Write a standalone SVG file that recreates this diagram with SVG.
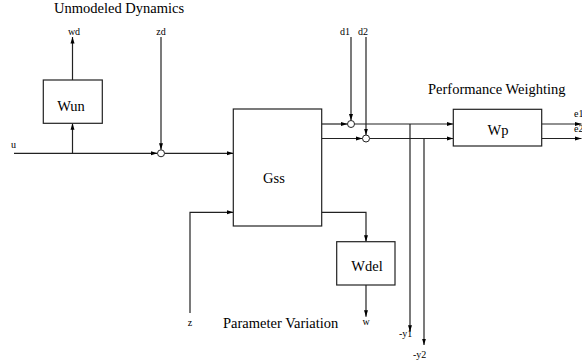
<svg xmlns="http://www.w3.org/2000/svg" width="582" height="364" viewBox="0 0 582 364">
<defs>
<marker id="ah" markerUnits="userSpaceOnUse" markerWidth="7" markerHeight="5" refX="6.5" refY="2.5" orient="auto">
<path d="M0,0.5 L6.5,2.5 L0,4.5 Z" fill="#000"/>
</marker>
<style>
.b{fill:#fff;stroke:#222;stroke-width:1.2}
.c{fill:none;stroke:#222;stroke-width:1.2}
.s{fill:#fff;stroke:#222;stroke-width:1}
.big{font-family:'Liberation Serif','Times New Roman',Times,'DejaVu Serif',serif;font-size:14.5px;fill:#000}
.sm{font-family:'Liberation Serif','Times New Roman',Times,'DejaVu Serif',serif;font-size:10px;fill:#000}
</style>
</defs>
<rect width="582" height="364" fill="#fff"/>
<g id="connectors">
<line class="c" x1="14" y1="153.3" x2="157.5" y2="153.3" marker-end="url(#ah)"/>
<line class="c" x1="72.5" y1="153.3" x2="72.5" y2="123.3" marker-end="url(#ah)"/>
<line class="c" x1="72.5" y1="80" x2="72.5" y2="37" marker-end="url(#ah)"/>
<line class="c" x1="161" y1="37" x2="161" y2="149.8" marker-end="url(#ah)"/>
<line class="c" x1="164.5" y1="153.3" x2="233.3" y2="153.3" marker-end="url(#ah)"/>
<line class="c" x1="321.7" y1="124" x2="347.5" y2="124" marker-end="url(#ah)"/>
<line class="c" x1="351" y1="37" x2="351" y2="120.5" marker-end="url(#ah)"/>
<line class="c" x1="354.5" y1="124" x2="453.3" y2="124" marker-end="url(#ah)"/>
<line class="c" x1="321.7" y1="138.5" x2="362.5" y2="138.5" marker-end="url(#ah)"/>
<line class="c" x1="366" y1="37" x2="366" y2="135" marker-end="url(#ah)"/>
<line class="c" x1="369.5" y1="138.5" x2="453.3" y2="138.5" marker-end="url(#ah)"/>
<line class="c" x1="410" y1="124" x2="410" y2="331.7" marker-end="url(#ah)"/>
<line class="c" x1="424" y1="138.5" x2="424" y2="345" marker-end="url(#ah)"/>
<line class="c" x1="541.7" y1="124" x2="581.5" y2="124" marker-end="url(#ah)"/>
<line class="c" x1="541.7" y1="138.5" x2="581.5" y2="138.5" marker-end="url(#ah)"/>
<polyline class="c" points="190,313 190,212.3 233.3,212.3" marker-end="url(#ah)"/>
<polyline class="c" points="321.7,212.3 366,212.3 366,241.7" marker-end="url(#ah)"/>
<line class="c" x1="366" y1="285" x2="366" y2="316.7" marker-end="url(#ah)"/>
</g>
<g id="sum1"><circle class="s" cx="161" cy="153.3" r="3.5"/></g>
<g id="sum2"><circle class="s" cx="351" cy="124" r="3.5"/></g>
<g id="sum3"><circle class="s" cx="366" cy="138.5" r="3.5"/></g>
<g id="Wun">
<rect class="b" x="43.3" y="80" width="59" height="43.3"/>
<text class="big" x="71" y="111" text-anchor="middle">Wun</text>
</g>
<g id="Gss">
<rect class="b" x="233.3" y="109" width="88.4" height="117"/>
<text class="big" x="274" y="183" text-anchor="middle">Gss</text>
</g>
<g id="Wp">
<rect class="b" x="453.3" y="109.3" width="88.4" height="36.7"/>
<text class="big" x="498" y="135" text-anchor="middle">Wp</text>
</g>
<g id="Wdel">
<rect class="b" x="336.7" y="241.7" width="58.3" height="43.3"/>
<text class="big" x="367" y="271" text-anchor="middle">Wdel</text>
</g>
<g id="labels">
<text class="big" x="54" y="13">Unmodeled Dynamics</text>
<text class="big" x="428" y="94">Performance Weighting</text>
<text class="big" x="223" y="328">Parameter Variation</text>
<text class="sm" x="74" y="35" text-anchor="middle">wd</text>
<text class="sm" x="161" y="35" text-anchor="middle">zd</text>
<text class="sm" x="11" y="148">u</text>
<text class="sm" x="340" y="35">d1</text>
<text class="sm" x="358" y="35">d2</text>
<text class="sm" x="574" y="117">e1</text>
<text class="sm" x="574" y="132">e2</text>
<text class="sm" x="190" y="326" text-anchor="middle">z</text>
<text class="sm" x="366" y="325" text-anchor="middle">w</text>
<text class="sm" x="399" y="337">-y1</text>
<text class="sm" x="413" y="358">-y2</text>
</g>
</svg>
